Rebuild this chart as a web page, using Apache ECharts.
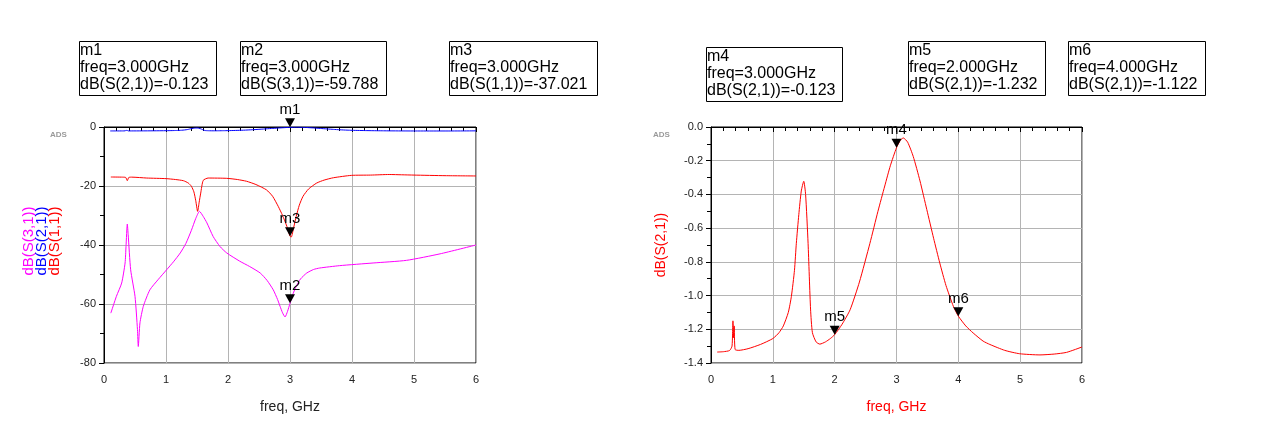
<!DOCTYPE html>
<html>
<head>
<meta charset="utf-8">
<script src="https://cdn.jsdelivr.net/npm/echarts@6/dist/echarts.min.js"></script>
<style>
html,body{margin:0;padding:0;background:#fff;}
#chart{width:1261px;height:427px;}
</style>
</head>
<body>
<div id="chart"></div>
<script>
// ---------- DATA ----------
var xTicks = [0, 1, 2, 3, 4, 5, 6];
var leftYTicks = [0, -20, -40, -60, -80];
var rightYTicks = [0.0, -0.2, -0.4, -0.6, -0.8, -1.0, -1.2, -1.4];

// dB(S(2,1)) (GHz, dB)
var s21Freq = [0.10,0.20,0.30,0.34,0.355,0.365,0.375,0.39,0.45,0.6,0.8,1.0,1.1,1.17,1.25,1.30,1.35,1.38,1.42,1.46,1.50,1.53,1.57,1.61,1.64,1.70,1.76,1.85,1.93,2.0,2.12,2.25,2.40,2.57,2.70,2.81,2.90,3.0,3.06,3.11,3.18,3.27,3.38,3.49,3.60,3.70,3.80,3.92,4.0,4.12,4.24,4.4,4.51,4.75,4.99,5.32,5.55,5.75,6.0];
var s21Db   = [-1.335,-1.333,-1.326,-1.30,-1.15,-1.25,-1.18,-1.32,-1.325,-1.315,-1.29,-1.255,-1.22,-1.18,-1.10,-1.005,-0.85,-0.69,-0.52,-0.38,-0.322,-0.40,-0.69,-1.08,-1.22,-1.275,-1.288,-1.275,-1.255,-1.232,-1.17,-1.084,-0.92,-0.69,-0.50,-0.35,-0.23,-0.123,-0.08,-0.065,-0.09,-0.174,-0.32,-0.49,-0.66,-0.807,-0.94,-1.064,-1.122,-1.18,-1.222,-1.27,-1.29,-1.325,-1.345,-1.352,-1.347,-1.337,-1.305];

// dB(S(1,1))
var s11Freq = [0.11,0.30,0.35,0.376,0.40,0.45,0.69,1.0,1.15,1.28,1.36,1.41,1.45,1.48,1.51,1.535,1.56,1.60,1.68,1.98,2.15,2.30,2.45,2.62,2.72,2.81,2.88,2.95,3.0,3.02,3.06,3.10,3.15,3.21,3.30,3.43,3.55,3.70,3.99,4.3,4.6,4.8,5.0,5.5,6.0];
var s11Db   = [-16.95,-17.0,-17.1,-18.2,-17.1,-17.0,-17.3,-17.5,-17.8,-18.2,-19.0,-20.1,-22.0,-25.0,-28.6,-25.5,-22.4,-18.1,-17.3,-17.4,-17.8,-18.4,-19.5,-21.3,-23.5,-26.9,-30.0,-33.7,-37.021,-37.3,-34.0,-30.3,-26.5,-23.5,-21.0,-19.0,-18.0,-17.2,-16.4,-16.3,-16.1,-16.2,-16.3,-16.5,-16.6];

// dB(S(3,1))
var s31Freq = [0.11,0.20,0.285,0.34,0.355,0.376,0.39,0.43,0.50,0.54,0.553,0.58,0.634,0.74,0.87,1.01,1.12,1.23,1.32,1.41,1.48,1.54,1.60,1.66,1.76,1.87,1.98,2.19,2.35,2.52,2.63,2.73,2.80,2.84,2.88,2.92,2.96,3.0,3.05,3.10,3.17,3.27,3.38,3.48,3.8,4.34,4.88,5.42,6.0];
var s31Db   = [-63.1,-57.4,-52.9,-46.1,-40.5,-32.9,-36.5,-48.4,-57.4,-68.7,-74.4,-66.4,-60.8,-55.2,-51.8,-48.4,-45.7,-42.7,-39.5,-35.0,-31.0,-28.6,-30.3,-32.5,-37.1,-40.5,-42.7,-45.5,-47.3,-49.5,-52.0,-55.2,-58.5,-60.8,-63.0,-64.4,-62.5,-59.788,-56.5,-54.0,-51.5,-49.5,-48.3,-47.8,-47.0,-46.1,-45.2,-43.0,-40.0];

// markers
var markerNames  = ["m1", "m2", "m3", "m4", "m5", "m6"];
var markerFreqs  = [3.000, 3.000, 3.000, 3.000, 2.000, 4.000];
var markerVals   = [-0.123, -59.788, -37.021, -0.123, -1.232, -1.122];
var markerTraces = ["dB(S(2,1))", "dB(S(3,1))", "dB(S(1,1))", "dB(S(2,1))", "dB(S(2,1))", "dB(S(2,1))"];

// ---------- CHART ----------
function pairs(f, v) { return f.map(function (x, i) { return [x, v[i]]; }); }
function mk(i) {
  return {
    coord: [markerFreqs[i], markerVals[i]],
    name: markerNames[i],
    label: { show: true, formatter: markerNames[i] }
  };
}
var triPath = 'path://M0,0 L10,0 L5,9 Z';
function markCfg(ids) {
  return {
    symbol: triPath,
    symbolSize: [10, 9],
    symbolOffset: [0, -4.5],
    silent: true,
    animation: false,
    itemStyle: { color: '#000' },
    label: { position: 'top', distance: 1, color: '#000', fontSize: 15, fontFamily: 'Liberation Sans, Arial' },
    data: ids.map(mk)
  };
}

var font = 'Liberation Sans, Arial, sans-serif';
function xAxisCfg(gi, nameColor) {
  return {
    gridIndex: gi, type: 'value', min: 0, max: 6, interval: 1,
    name: 'freq, GHz', nameLocation: 'middle', nameGap: 37,
    nameTextStyle: { color: nameColor, fontSize: 14, fontFamily: font },
    axisLine: { lineStyle: { color: '#000', width: 1 } },
    axisTick: { show: true, length: 5, lineStyle: { color: '#000' } },
    minorTick: { show: true, splitNumber: 5, length: 4, lineStyle: { color: '#000' } },
    axisLabel: { color: '#222', fontSize: 11, fontFamily: font, margin: 11 },
    splitLine: { show: true, lineStyle: { color: '#b4b4b4', width: 1 } }
  };
}

var chart = echarts.init(document.getElementById('chart'), null, { renderer: 'canvas' });

var boxes = [
  { x: 79, y: 41, w: 137, i: 0 },
  { x: 240, y: 41, w: 146, i: 1 },
  { x: 449, y: 41, w: 148, i: 2 },
  { x: 706, y: 47, w: 136, i: 3 },
  { x: 908, y: 41, w: 137, i: 4 },
  { x: 1068, y: 41, w: 137, i: 5 }
];
var graphics = [];
boxes.forEach(function (b) {
  var i = b.i;
  graphics.push({
    type: 'rect', left: b.x, top: b.y, silent: true,
    shape: { width: b.w, height: 54 },
    style: { fill: '#fff', stroke: '#000', lineWidth: 1 }
  });
  graphics.push({
    type: 'text', left: b.x + 1, top: b.y + 1, silent: true,
    style: {
      text: markerNames[i] + '\nfreq=' + markerFreqs[i].toFixed(3) + 'GHz\n' + markerTraces[i] + '=' + markerVals[i].toFixed(3),
      font: '16px ' + font, fill: '#000', lineHeight: 17
    }
  });
});
// y-axis names
graphics.push({ type: 'text', x: 29, y: 241, rotation: Math.PI / 2, silent: true,
  style: { text: 'dB(S(3,1))', font: '15px ' + font, fill: '#ff00ff', align: 'center', verticalAlign: 'middle' } });
graphics.push({ type: 'text', x: 42, y: 241, rotation: Math.PI / 2, silent: true,
  style: { text: 'dB(S(2,1))', font: '15px ' + font, fill: '#0000ff', align: 'center', verticalAlign: 'middle' } });
graphics.push({ type: 'text', x: 55, y: 241, rotation: Math.PI / 2, silent: true,
  style: { text: 'dB(S(1,1))', font: '15px ' + font, fill: '#ff0000', align: 'center', verticalAlign: 'middle' } });
graphics.push({ type: 'text', x: 661, y: 245, rotation: Math.PI / 2, silent: true,
  style: { text: 'dB(S(2,1))', font: '14px ' + font, fill: '#ff0000', align: 'center', verticalAlign: 'middle' } });
// ADS watermarks
graphics.push({ type: 'text', left: 50, top: 131, silent: true,
  style: { text: 'ADS', font: 'bold 8px ' + font, fill: '#9a9a9a' } });
graphics.push({ type: 'text', left: 653, top: 131, silent: true,
  style: { text: 'ADS', font: 'bold 8px ' + font, fill: '#9a9a9a' } });

function lineSeries(gi, f, v, color, marks) {
  return {
    type: 'line', showSymbol: false, smooth: 0.2,
    xAxisIndex: gi, yAxisIndex: gi, data: pairs(f, v),
    lineStyle: { color: color, width: 1 }, itemStyle: { color: color },
    markPoint: markCfg(marks)
  };
}

var option = {
  backgroundColor: '#fff',
  animation: false,
  grid: [
    { left: 104, right: 785, top: 127, bottom: 64, show: true, borderColor: '#000', borderWidth: 1 },
    { left: 711, right: 179, top: 127, bottom: 64, show: true, borderColor: '#000', borderWidth: 1 }
  ],
  xAxis: [xAxisCfg(0, '#222'), xAxisCfg(1, '#ff0000')],
  yAxis: [
    {
      gridIndex: 0, type: 'value', min: -80, max: 0, interval: 20,
      axisLine: { show: true, lineStyle: { color: '#000' } },
      axisTick: { show: true, length: 5, lineStyle: { color: '#000' } },
      minorTick: { show: true, splitNumber: 2, length: 4, lineStyle: { color: '#000' } },
      axisLabel: { color: '#222', fontSize: 11, fontFamily: font, margin: 8 },
      splitLine: { show: true, lineStyle: { color: '#b4b4b4', width: 1 } }
    },
    {
      gridIndex: 1, type: 'value', min: -1.4, max: 0, interval: 0.2,
      axisLine: { show: true, lineStyle: { color: '#000' } },
      axisTick: { show: true, length: 5, lineStyle: { color: '#000' } },
      minorTick: { show: true, splitNumber: 2, length: 4, lineStyle: { color: '#000' } },
      axisLabel: { color: '#222', fontSize: 11, fontFamily: font, margin: 8,
        formatter: function (v) { return (Math.abs(v) < 1e-9 ? 0 : v).toFixed(1); } },
      splitLine: { show: true, lineStyle: { color: '#b4b4b4', width: 1 } }
    }
  ],
  series: [
    lineSeries(0, s11Freq, s11Db, '#ff0000', [2]),
    lineSeries(0, s31Freq, s31Db, '#ff00ff', [1]),
    lineSeries(0, s21Freq, s21Db, '#0000ff', [0]),
    lineSeries(1, s21Freq, s21Db, '#ff0000', [3, 4, 5])
  ],
  graphic: graphics
};
chart.setOption(option);
</script>
</body>
</html>
